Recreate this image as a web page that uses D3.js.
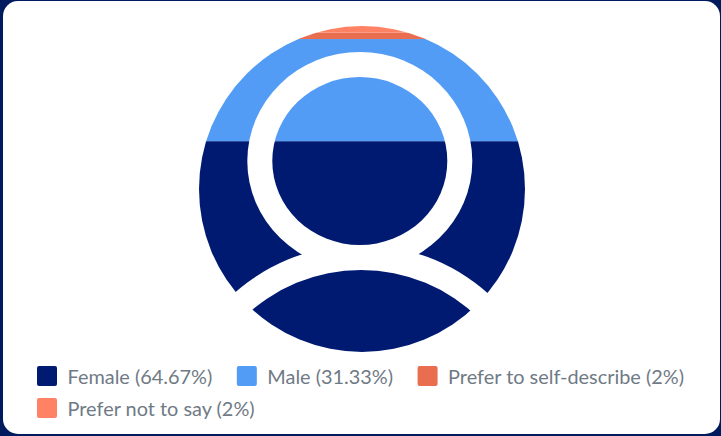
<!DOCTYPE html>
<html>
<head>
<meta charset="utf-8">
<script src="https://cdn.jsdelivr.net/npm/d3@7"></script>
<style>
  html, body { margin: 0; padding: 0; background: #001a5e; }
  svg { display: block; }
</style>
</head>
<body>
<div id="chart-container"></div>
<script>
// Data
var categories = ["Female", "Male", "Prefer to self-describe", "Prefer not to say"];
var percents = [64.67, 31.33, 2, 2];
var colors = ["#001a72", "#529cf5", "#e96e50", "#ff8264"];

var width = 721, height = 436;

var svg = d3.select("#chart-container").append("svg")
    .attr("width", width)
    .attr("height", height);

// White card
svg.append("rect")
    .attr("x", 3).attr("y", 1)
    .attr("width", 717).attr("height", 433)
    .attr("rx", 15)
    .attr("fill", "#fff");

// Icon geometry
var cx = 362, cy = 189, r = 163;

// Stack the shares from the bottom of the icon to the top
var y = d3.scaleLinear().domain([0, 100]).range([cy + r, cy - r]);
var stacked = d3.cumsum(percents);

var defs = svg.append("defs");
var mask = defs.append("mask")
    .attr("id", "person")
    .attr("maskUnits", "userSpaceOnUse")
    .attr("x", 0).attr("y", 0)
    .attr("width", width).attr("height", height);

// Person silhouette: white shows the bars, black knocks them out
mask.append("circle").attr("cx", cx).attr("cy", cy).attr("r", r).attr("fill", "#fff");
mask.append("ellipse").attr("cx", 359.8).attr("cy", 161).attr("rx", 112.5).attr("ry", 109).attr("fill", "#000");
mask.append("ellipse").attr("cx", 359.8).attr("cy", 161).attr("rx", 87.5).attr("ry", 84).attr("fill", "#fff");
mask.append("circle").attr("cx", 361).attr("cy", 436).attr("r", 191).attr("fill", "#000");
var lensClip = defs.append("clipPath").attr("id", "outer");
lensClip.append("circle").attr("cx", cx).attr("cy", cy).attr("r", r);
mask.append("circle").attr("cx", 361).attr("cy", 438.5).attr("r", 168.5)
    .attr("fill", "#fff").attr("clip-path", "url(#outer)");

// Draw bars
svg.append("g")
    .attr("mask", "url(#person)")
    .selectAll("rect")
    .data(percents)
    .enter().append("rect")
    .attr("x", cx - r)
    .attr("width", r * 2)
    .attr("y", function (d, i) { return y(stacked[i]); })
    .attr("height", function (d) { return y(0) - y(d); })
    .attr("fill", function (d, i) { return colors[i]; });

// Legend, wraps like the original flow layout
var legend = svg.append("g");
var lx = 37, ly = 366;
categories.forEach(function (name, i) {
    var item = legend.append("g");
    item.append("rect")
        .attr("width", 20).attr("height", 20).attr("rx", 2)
        .attr("fill", colors[i]);
    var label = item.append("text")
        .attr("x", 30.5).attr("y", 17.5)
        .attr("font-family", "Lato, sans-serif")
        .attr("font-size", 19.9)
        .attr("fill", "#6f7a85")
        .text(name + " (" + percents[i] + "%)");
    var w = 30.5 + label.node().getComputedTextLength();
    if (lx + w > 690) {
        lx = 37;
        ly += 32;
    }
    item.attr("transform", "translate(" + lx + "," + ly + ")");
    lx += w + 24.5;
});
</script>
</body>
</html>
